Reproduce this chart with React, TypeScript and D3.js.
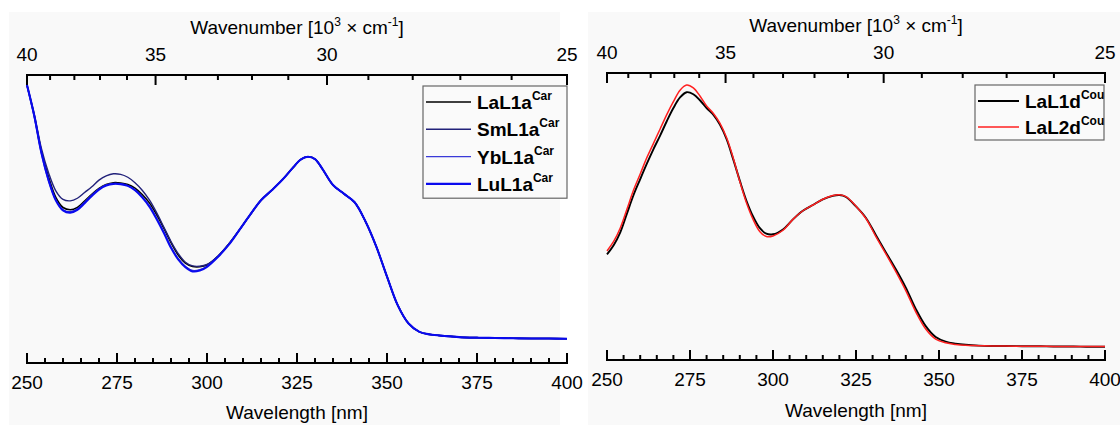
import React from "react";
import * as d3 from "d3";

// left panel: Car complexes
const wlCar = [250, 252, 254, 256, 258, 260, 262, 264, 266, 268, 270, 272, 274, 276, 278, 280, 282, 284, 286, 288, 290, 292, 294, 296, 298, 300, 303, 306, 309, 312, 315, 318, 321, 324, 326, 328, 330, 332, 335, 338, 341, 344, 347, 350, 353, 356, 359, 362, 366, 370, 375, 380, 385, 390, 395, 400];
const laL1aCar = [0.965, 0.86, 0.735, 0.645, 0.575, 0.54, 0.532, 0.54, 0.562, 0.586, 0.606, 0.62, 0.626, 0.625, 0.62, 0.607, 0.585, 0.556, 0.515, 0.468, 0.418, 0.375, 0.347, 0.335, 0.334, 0.34, 0.37, 0.412, 0.462, 0.515, 0.565, 0.6, 0.637, 0.68, 0.706, 0.716, 0.708, 0.675, 0.618, 0.588, 0.558, 0.492, 0.405, 0.3, 0.2, 0.137, 0.108, 0.099, 0.094, 0.09, 0.088, 0.087, 0.086, 0.085, 0.085, 0.084];
const smL1aCar = [0.965, 0.865, 0.745, 0.66, 0.598, 0.568, 0.563, 0.572, 0.592, 0.612, 0.635, 0.65, 0.657, 0.655, 0.645, 0.626, 0.6, 0.566, 0.522, 0.472, 0.422, 0.38, 0.35, 0.337, 0.336, 0.342, 0.37, 0.412, 0.462, 0.515, 0.565, 0.6, 0.637, 0.68, 0.706, 0.716, 0.708, 0.675, 0.618, 0.588, 0.558, 0.492, 0.405, 0.3, 0.2, 0.137, 0.108, 0.099, 0.094, 0.09, 0.088, 0.087, 0.086, 0.085, 0.085, 0.084];
const ybL1aCar = [0.962, 0.855, 0.728, 0.632, 0.566, 0.532, 0.525, 0.535, 0.558, 0.583, 0.604, 0.618, 0.623, 0.622, 0.616, 0.601, 0.577, 0.546, 0.503, 0.455, 0.403, 0.362, 0.335, 0.321, 0.324, 0.336, 0.369, 0.41, 0.462, 0.515, 0.565, 0.6, 0.637, 0.68, 0.706, 0.716, 0.708, 0.675, 0.618, 0.588, 0.558, 0.492, 0.405, 0.3, 0.2, 0.137, 0.108, 0.099, 0.094, 0.09, 0.088, 0.087, 0.086, 0.085, 0.085, 0.084];
const luL1aCar = [0.965, 0.86, 0.73, 0.635, 0.565, 0.53, 0.522, 0.532, 0.555, 0.58, 0.602, 0.616, 0.622, 0.621, 0.615, 0.6, 0.575, 0.543, 0.5, 0.452, 0.4, 0.36, 0.333, 0.318, 0.321, 0.334, 0.368, 0.41, 0.462, 0.515, 0.565, 0.6, 0.637, 0.68, 0.706, 0.716, 0.708, 0.675, 0.618, 0.588, 0.558, 0.492, 0.405, 0.3, 0.2, 0.137, 0.108, 0.099, 0.094, 0.09, 0.088, 0.087, 0.086, 0.085, 0.085, 0.084];

// right panel: Cou complexes
const wlCou = [250, 252, 254, 256, 258, 260, 262, 264, 266, 268, 270, 272, 274, 276, 278, 280, 282, 284, 286, 288, 290, 292, 294, 296, 298, 300, 303, 306, 309, 312, 315, 318, 320, 322, 325, 328, 331, 334, 337, 340, 343, 346, 349, 352, 355, 358, 362, 366, 370, 375, 380, 385, 390, 395, 400];
const laL1dCou = [0.368, 0.4, 0.445, 0.51, 0.575, 0.63, 0.684, 0.735, 0.782, 0.832, 0.878, 0.915, 0.933, 0.926, 0.905, 0.878, 0.855, 0.82, 0.77, 0.7, 0.625, 0.555, 0.5, 0.46, 0.44, 0.438, 0.455, 0.49, 0.52, 0.54, 0.56, 0.572, 0.575, 0.568, 0.535, 0.495, 0.435, 0.375, 0.316, 0.252, 0.178, 0.118, 0.08, 0.064, 0.057, 0.053, 0.05, 0.049, 0.049, 0.048, 0.048, 0.047, 0.047, 0.046, 0.046];
const laL2dCou = [0.38, 0.413, 0.46, 0.525, 0.592, 0.648, 0.705, 0.755, 0.805, 0.855, 0.9, 0.94, 0.958, 0.948, 0.92, 0.885, 0.86, 0.825, 0.775, 0.705, 0.622, 0.548, 0.49, 0.448, 0.43, 0.432, 0.452, 0.49, 0.52, 0.54, 0.56, 0.573, 0.576, 0.569, 0.536, 0.493, 0.43, 0.37, 0.308, 0.242, 0.168, 0.108, 0.073, 0.06, 0.054, 0.051, 0.05, 0.049, 0.049, 0.048, 0.048, 0.047, 0.047, 0.047, 0.047];

const nmMajor = [250, 275, 300, 325, 350, 375, 400];
const nmMinor = d3.range(250, 401, 5);
const kMajor = [40, 35, 30, 25];
const kMinor = d3.range(25, 41, 1);

const FONT = "'Liberation Sans', Arial, sans-serif";

type Series = { name: string; sup: string; values: number[]; color: string; width: number };

type PanelProps = {
  x0: number;
  x1: number;
  yTop: number;
  yBottom: number;
  wl: number[];
  series: Series[];
  legend: { x: number; y: number; w: number; rowH: number; lineW: number };
};

const Panel = ({ x0, x1, yTop, yBottom, wl, series, legend }: PanelProps) => {
  const x = d3.scaleLinear().domain([250, 400]).range([x0, x1]);
  const y = d3.scaleLinear().domain([0, 1]).range([yBottom, yTop]);
  const line = d3
    .line<number>()
    .x((_, i) => x(wl[i]))
    .y((d) => y(d))
    .curve(d3.curveCatmullRom.alpha(0.5));
  const cx = (x0 + x1) / 2;
  const legH = series.length * legend.rowH + 3;

  return (
    <g fontFamily={FONT} fill="#000">
      {/* top axis: wavenumber */}
      <line x1={x0 - 1} x2={x1 + 1} y1={yTop} y2={yTop} stroke="#000" strokeWidth={2} />
      {kMinor.map((k) => (
        <line key={"km" + k} x1={x(1e4 / k)} x2={x(1e4 / k)} y1={yTop} y2={yTop + (kMajor.includes(k) ? 10 : 5)} stroke="#000" strokeWidth={2} />
      ))}
      {kMajor.map((k) => (
        <text key={"kl" + k} x={x(1e4 / k)} y={yTop - 14} fontSize={19} textAnchor="middle">{k}</text>
      ))}
      <text x={cx} y={yTop - 41} fontSize={19} textAnchor="middle">
        Wavenumber [10<tspan fontSize={12} dy={-8}>3</tspan>
        <tspan dy={8}> × cm</tspan>
        <tspan fontSize={12} dy={-8}>-1</tspan>
        <tspan dy={8}>]</tspan>
      </text>

      {/* bottom axis: wavelength */}
      <line x1={x0 - 1} x2={x1 + 1} y1={yBottom} y2={yBottom} stroke="#000" strokeWidth={2} />
      {nmMinor.map((v) => (
        <line key={"nm" + v} x1={x(v)} x2={x(v)} y1={yBottom} y2={yBottom - (nmMajor.includes(v) ? 10 : 5)} stroke="#000" strokeWidth={2} />
      ))}
      {nmMajor.map((v) => (
        <text key={"nl" + v} x={x(v)} y={yBottom + 26} fontSize={19} textAnchor="middle">{v}</text>
      ))}
      <text x={cx} y={Math.min(yBottom + 57, 419)} fontSize={19} textAnchor="middle">Wavelength [nm]</text>

      {/* spectra */}
      {series.map((s) => (
        <path key={s.name} d={line(s.values) || ""} fill="none" stroke={s.color} strokeWidth={s.width} strokeLinejoin="round" />
      ))}

      {/* legend */}
      <rect x={legend.x} y={legend.y} width={legend.w} height={legH} fill="#fafafa" stroke="#666" strokeWidth={1.2} />
      {series.map((s, i) => {
        const ry = legend.y + 16 + i * legend.rowH;
        return (
          <g key={"lg" + s.name}>
            <line x1={legend.x + 3} x2={legend.x + 3 + legend.lineW} y1={ry} y2={ry} stroke={s.color} strokeWidth={s.width} />
            <text x={legend.x + legend.lineW + 9} y={ry + 7} fontSize={19} fontWeight="bold">
              {s.name}
              <tspan fontSize={12} dy={-9}>{s.sup}</tspan>
            </text>
          </g>
        );
      })}
    </g>
  );
};

const carSeries: Series[] = [
  { name: "LaL1a", sup: "Car", values: laL1aCar, color: "#000000", width: 1.6 },
  { name: "SmL1a", sup: "Car", values: smL1aCar, color: "#22227a", width: 1.4 },
  { name: "YbL1a", sup: "Car", values: ybL1aCar, color: "#3a3ad8", width: 1.4 },
  { name: "LuL1a", sup: "Car", values: luL1aCar, color: "#0a0aee", width: 2.1 },
];

const couSeries: Series[] = [
  { name: "LaL1d", sup: "Cou", values: laL1dCou, color: "#000000", width: 1.9 },
  { name: "LaL2d", sup: "Cou", values: laL2dCou, color: "#ff2020", width: 1.5 },
];

export default function App() {
  return (
    <svg width={1120} height={425} style={{ position: "absolute", left: 0, top: 0, background: "#fff" }}>
      <rect x={9} y={12} width={551} height={413} fill="#f9f9f9" />
      <rect x={588} y={12} width={532} height={413} fill="#f9f9f9" />
      <Panel x0={27} x1={567} yTop={75} yBottom={363} wl={wlCar} series={carSeries} legend={{ x: 423, y: 86, w: 144, rowH: 27.3, lineW: 45 }} />
      <Panel x0={607} x1={1105} yTop={73} yBottom={360} wl={wlCou} series={couSeries} legend={{ x: 975, y: 85, w: 129, rowH: 26, lineW: 41 }} />
    </svg>
  );
}
